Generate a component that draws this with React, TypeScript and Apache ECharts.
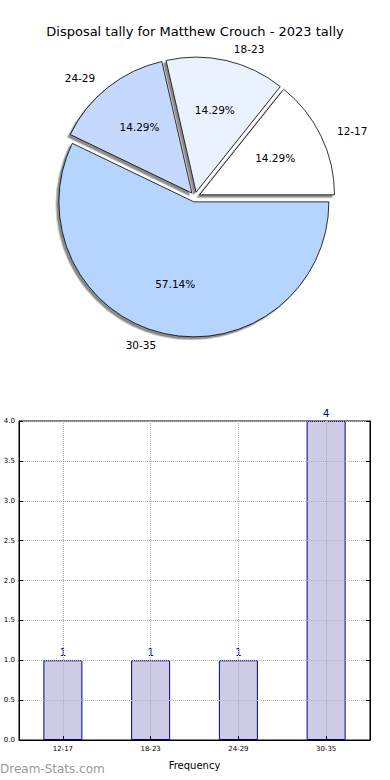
import React, { useEffect, useRef } from "react";
import * as echarts from "echarts";

const titleText = "Disposal tally for Matthew Crouch - 2023 tally";
const categories = ["12-17", "18-23", "24-29", "30-35"];
const counts = [1, 1, 1, 4];
const pieColors = ["#ffffff", "#eaf1ff", "#c5d9ff", "#b5d5ff"];
const yTicks = { min: 0, max: 4, interval: 0.5 };

export default function App() {
  const ref = useRef<HTMLDivElement>(null);
  useEffect(() => {
    document.body.style.margin = "0";
    const chart = echarts.init(ref.current!, null, { renderer: "svg" });
    const font = "DejaVu Sans";
    const R = 135;
    const total = counts.reduce((a, b) => a + b, 0);
    const pieData = categories.map((c, i) => ({
      name: c,
      value: counts[i],
      selected: true,
      itemStyle: { color: pieColors[i] },
    }));
    chart.setOption({
      animation: false,
      backgroundColor: "#ffffff",
      textStyle: { fontFamily: font },
      title: {
        text: titleText,
        left: "center",
        top: 20,
        textStyle: { fontSize: 13, fontWeight: "normal", color: "#000", fontFamily: font },
      },
      graphic: [
        {
          type: "text",
          left: 0,
          top: 763,
          style: { text: "Dream-Stats.com", fontSize: 12, fill: "#9a9a9a", fontFamily: font },
        },
      ],
      grid: {
        left: 19,
        top: 421,
        width: 351,
        height: 319,
        show: true,
        borderColor: "#000",
        borderWidth: 1,
        backgroundColor: "transparent",
      },
      xAxis: {
        type: "category",
        data: categories,
        z: 3,
        name: "Frequency",
        nameLocation: "middle",
        nameGap: 20,
        nameTextStyle: { fontSize: 10, color: "#000", fontFamily: font },
        axisLine: { lineStyle: { color: "#000", width: 1 } },
        axisTick: { show: true, inside: true, length: 4, alignWithLabel: true, lineStyle: { color: "#000" } },
        axisLabel: { fontSize: 7, color: "#000", margin: 5, fontFamily: font },
        splitLine: {
          show: true,
          alignWithLabel: true,
          lineStyle: { color: "#b0b0b0", type: "dotted", width: 1 },
        },
      },
      yAxis: [
        {
          type: "value",
          min: yTicks.min,
          max: yTicks.max,
          interval: yTicks.interval,
          z: 3,
          axisLine: { show: true, lineStyle: { color: "#000", width: 1 } },
          axisTick: { show: true, inside: true, length: 4, lineStyle: { color: "#000" } },
          axisLabel: {
            fontSize: 7,
            color: "#000",
            margin: 4,
            fontFamily: font,
            formatter: (v: number) => v.toFixed(1),
          },
          splitLine: { show: true, lineStyle: { color: "#b0b0b0", type: "dotted", width: 1 } },
        },
        {
          type: "value",
          position: "right",
          min: yTicks.min,
          max: yTicks.max,
          interval: yTicks.interval,
          z: 3,
          axisLine: { show: true, lineStyle: { color: "#000", width: 1 } },
          axisTick: { show: true, inside: true, length: 4, lineStyle: { color: "#000" } },
          axisLabel: { show: false },
          splitLine: { show: false },
        },
      ],
      series: [
        {
          type: "pie",
          center: [195, 197],
          radius: [0, R],
          startAngle: 0,
          clockwise: false,
          selectedMode: "multiple",
          selectedOffset: 5,
          avoidLabelOverlap: false,
          silent: true,
          emphasis: { disabled: true },
          itemStyle: {
            borderColor: "#000",
            borderWidth: 0.8,
            shadowColor: "rgba(0,0,0,0.45)",
            shadowBlur: 1,
            shadowOffsetX: -2.5,
            shadowOffsetY: 2.5,
          },
          label: {
            show: true,
            position: "outside",
            formatter: "{b}",
            fontSize: 10.5,
            color: "#000",
            fontFamily: font,
          },
          labelLine: { show: false, length: 12, length2: 0 },
          data: pieData,
        },
        {
          type: "pie",
          center: [195, 197],
          radius: [R * 0.2, R],
          startAngle: 0,
          clockwise: false,
          selectedMode: "multiple",
          selectedOffset: 5,
          silent: true,
          z: 3,
          emphasis: { disabled: true },
          itemStyle: { color: "transparent", borderWidth: 0 },
          label: {
            show: true,
            position: "inside",
            formatter: (p: any) => ((p.value / total) * 100).toFixed(2) + "%",
            fontSize: 10.5,
            color: "#000",
            fontFamily: font,
          },
          labelLine: { show: false },
          data: categories.map((c, i) => ({ name: c, value: counts[i], selected: true })),
        },
        {
          type: "bar",
          data: counts,
          barWidth: 39,
          z: 1,
          silent: true,
          itemStyle: { color: "#cccce6", borderColor: "#00008b", borderWidth: 1 },
          label: {
            show: true,
            position: "top",
            distance: 3,
            fontSize: 10,
            color: "#00008b",
            fontFamily: font,
          },
        },
      ],
    });
    return () => chart.dispose();
  }, []);
  return <div ref={ref} style={{ width: 390, height: 780 }} />;
}
